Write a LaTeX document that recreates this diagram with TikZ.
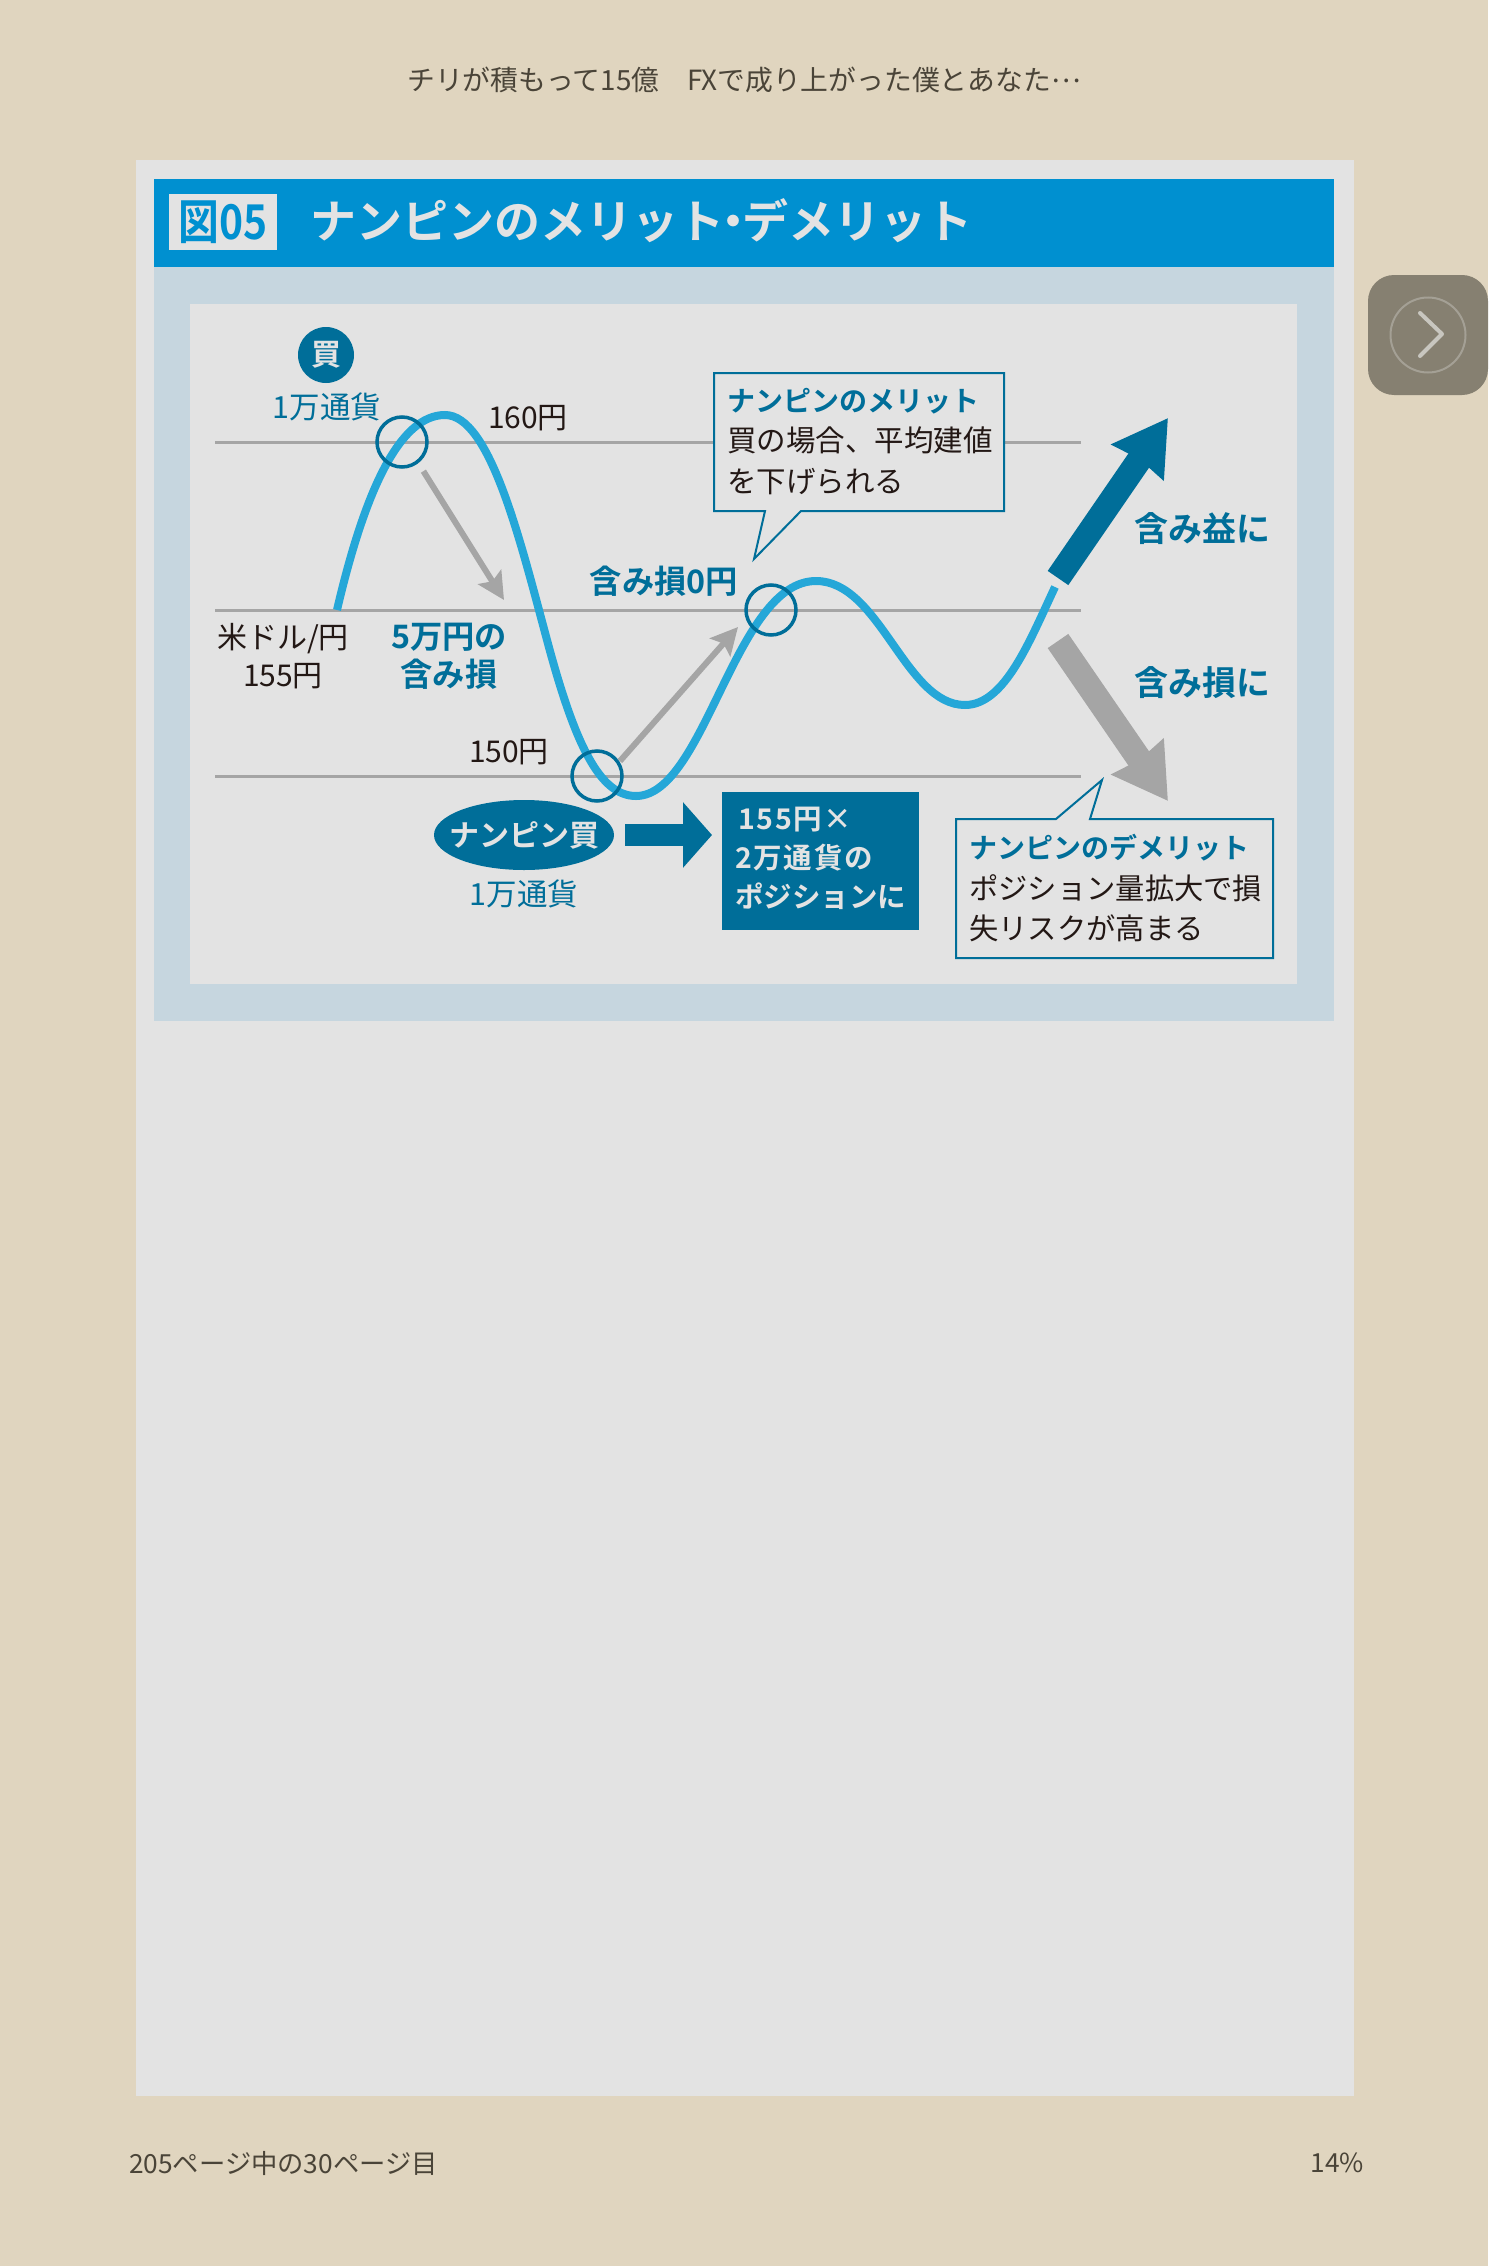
\documentclass[tikz,border=0pt]{standalone}
\usepackage{fontspec}
\setmainfont{Noto Sans CJK JP}[BoldFont={Noto Sans CJK JP Bold}]
\usepackage{tikz}
\usetikzlibrary{shapes.geometric, arrows.meta}
\definecolor{pagebg}{HTML}{E0D5BF}
\definecolor{panelgray}{HTML}{E3E3E3}
\definecolor{headblue}{HTML}{0090D0}
\definecolor{paleblue}{HTML}{C6D6DF}
\definecolor{deepteal}{HTML}{006E99}
\definecolor{curveblue}{HTML}{25A7D8}
\definecolor{linegray}{HTML}{A5A5A5}
\definecolor{inkblack}{HTML}{231815}
\definecolor{pagetext}{HTML}{4A4438}
\definecolor{btngray}{HTML}{868071}
\tikzstyle{flatbox} = [
    rectangle,
    inner sep=0pt,
    anchor=north west
]
\tikzstyle{pricelabel} = [
    text=inkblack,
    font=\fontsize{30}{38}\selectfont,
    align=center,
    inner sep=0pt
]
\tikzstyle{teallabel} = [
    text=deepteal,
    font=\fontsize{30.5}{38}\selectfont,
    align=center,
    inner sep=0pt
]
\tikzstyle{boldlabel} = [
    text=deepteal,
    font=\fontsize{32.3}{38}\selectfont\bfseries,
    align=center,
    inner sep=0pt
]
\tikzstyle{resultlabel} = [
    text=deepteal,
    font=\fontsize{34}{38}\selectfont\bfseries,
    inner sep=0pt
]
\tikzstyle{pagelabel} = [
    text=pagetext,
    font=\fontsize{26.3}{30}\selectfont,
    inner sep=0pt
]
\tikzstyle{calloutbody} = [
    text=inkblack,
    font=\fontsize{29.3}{40.5}\selectfont,
    align=left,
    inner sep=0pt,
    anchor=north west
]
\tikzstyle{ring} = [
    circle,
    draw=deepteal,
    line width=3.5pt,
    minimum size=50pt,
    inner sep=0pt
]
\tikzstyle{level} = [linegray,line width=3pt]
\tikzstyle{thinarrow} = [linegray,line width=6pt,-{Stealth[length=27pt,width=27pt,inset=5pt]}]
\tikzstyle{fatarrow} = [line width=25pt,-{Stealth[length=53pt,width=61pt,inset=3pt]}]
\tikzstyle{balloon} = [draw=deepteal,line width=2pt,fill=panelgray,line join=miter]

\begin{document}
\begin{tikzpicture}[x=1pt,y=-1pt]
\useasboundingbox (0,0) rectangle (1488,2266);

\fill [pagebg] (0,0) rectangle (1488,2266);
\fill [panelgray] (136,160) rectangle (1354,2096);

% header and frame
\fill [paleblue] (154,266) rectangle (1334,1021);
\fill [panelgray] (190,304) rectangle (1297,984);
\fill [headblue] (154,179) rectangle (1334,267);
\node (figtag) [flatbox, fill=panelgray, minimum width=108pt, minimum height=56pt] at (169,194) {};
\node (fignum) [text=headblue, inner sep=0pt, font=\fontsize{48}{48}\selectfont\bfseries, xscale=.85] at (223,222) {図05};
\node (title) [text=panelgray, inner sep=0pt, anchor=west, font=\fontsize{46}{46}\selectfont\bfseries] at (310,221) {ナンピンのメリット\hspace{-.3em}・\hspace{-.3em}デメリット};

% price levels
\coordinate (hiL) at (215,442);
\coordinate (hiR) at (1081,442);
\coordinate (midL) at (215,610);
\coordinate (midR) at (1081,610);
\coordinate (lowL) at (215,776);
\coordinate (lowR) at (1081,776);
\draw [level] (hiL) -- (hiR);
\draw [level] (midL) -- (midR);
\draw [level] (lowL) -- (lowR);

% price curve
\draw [curveblue, line width=8pt]
    (337,610) .. controls (365,490) and (400,415) .. (445,415)
    .. controls (490,415) and (520,540) .. (547,640)
    .. controls (575,745) and (600,796) .. (636,796)
    .. controls (705,796) and (735,581) .. (816,581)
    .. controls (880,581) and (905,705) .. (965,705)
    .. controls (1005,705) and (1030,640) .. (1055,587);

\node (ringbuy) [ring] at (402,442) {};
\node (ringadd) [ring] at (597,776) {};
\node (ringzero) [ring] at (771,610) {};

% loss and recovery arrows
\coordinate (lossend) at (504,600);
\coordinate (backend) at (738,627);
\draw [thinarrow] (ringbuy.-60) ++(8,6) -- (lossend);
\draw [thinarrow] (ringadd.45) ++(4,4) -- (backend);

% outcome arrows
\coordinate (upfrom) at (1058,578);
\coordinate (upto) at (1168,418);
\coordinate (downfrom) at (1058,641);
\coordinate (downto) at (1168,801);
\draw [fatarrow, deepteal] (upfrom) -- (upto);
\draw [fatarrow, linegray] (downfrom) -- (downto);

% labels on the chart
\node (buymark) [ellipse, fill=deepteal, text=panelgray, minimum width=56pt, minimum height=56pt, inner sep=0pt, font=\fontsize{30}{30}\selectfont\bfseries] at (326,355) {買};
\node (buyqty) [teallabel] at (327,407) {1万通貨};
\node (hiprice) [pricelabel] at (528,418) {160円};
\node (midprice) [pricelabel] at (283,656) {米ドル/円\\155円};
\node (lowprice) [pricelabel] at (509,752) {150円};
\node (lossnote) [boldlabel] at (449,656) {5万円の\\含み損};
\node (zeronote) [boldlabel] at (664,581) {含み損0円};
\node (gainres) [resultlabel] at (1202,529) {含み益に};
\node (lossres) [resultlabel] at (1202,683) {含み損に};

% averaging down
\node (addbuy) [ellipse, fill=deepteal, minimum width=180pt, minimum height=70pt, inner sep=0pt] at (524,835) {};
\node (addbuytext) [text=panelgray, inner sep=0pt, font=\fontsize{30}{30}\selectfont\bfseries] at (addbuy) {ナンピン買};
\node (addqty) [teallabel] at (524,894) {1万通貨};
\node (position) [flatbox, fill=deepteal, minimum width=197pt, minimum height=138pt] at (722,792) {};
\node (positiontext) [text=panelgray, inner sep=0pt, anchor=north west, align=left, font=\fontsize{28.5}{39}\selectfont\bfseries] at (735,807) {\hspace{3pt}{\addfontfeature{LetterSpace=6}155円×}\\{\addfontfeature{LetterSpace=6}2万通貨の}\\ポジションに};
\coordinate (pointer) at (712,835);
\draw [deepteal, line width=22pt, -{Triangle[length=29pt,width=64pt]}] (addbuy.east) ++(11,0) -- (pointer);

% merit balloon
\draw [balloon] (714,373) -- (1004,373) -- (1004,511) -- (801,511) -- (754,559) -- (765,511) -- (714,511) -- cycle;
\node (merit) [calloutbody, font=\fontsize{29.5}{40.5}\selectfont] at (727,388) {{\color{deepteal}\bfseries\fontsize{28}{40.5}\selectfont ナンピンのメリット}\\買の場合、平均建値\\を下げられる};

% demerit balloon
\draw [balloon] (956,819) -- (1056,819) -- (1102,780) -- (1090,819) -- (1273,819) -- (1273,958) -- (956,958) -- cycle;
\node (demerit) [calloutbody] at (969,834) {{\color{deepteal}\bfseries\fontsize{28}{40.5}\selectfont ナンピンのデメリット}\\ポジション量拡大で損\\失リスクが高まる};

% page furniture
\node (booktitle) [pagelabel, font=\fontsize{27.8}{30}\selectfont] at (744,80) {チリが積もって15億　FXで成り上がった僕とあなた\raisebox{.3em}{…}};
\node (pagecount) [pagelabel, anchor=west] at (129,2163) {205ページ中の30ページ目};
\node (percent) [pagelabel, anchor=east] at (1364,2163) {14\%};
\node (nextbtn) [rectangle, rounded corners=26pt, fill=btngray, minimum width=120pt, minimum height=120pt, inner sep=0pt] at (1428,335) {};
\node (nextring) [circle, draw=white!25!btngray, line width=2pt, minimum size=75pt, inner sep=0pt] at (nextbtn) {};
\draw [white!55!btngray, line width=4pt, line cap=round, line join=round] (1420,313) -- (1442,334) -- (1420,356);

\end{tikzpicture}
\end{document}
